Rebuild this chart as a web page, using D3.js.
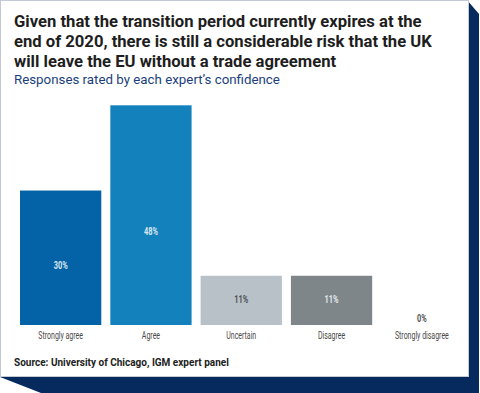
<!DOCTYPE html>
<html>
<head>
<meta charset="utf-8">
<script src="https://cdn.jsdelivr.net/npm/d3@7"></script>
<style>
  body { margin: 0; background: #fff; }
  text { font-family: Roboto, 'DejaVu Sans', sans-serif; }
  .title { font-weight: bold; font-size: 16.5px; fill: #1e1e1e; }
  .subtitle { font-size: 12.5px; fill: #1b3f7d; }
  .source { font-weight: bold; font-size: 10.5px; fill: #222; }
</style>
</head>
<body>
<svg id="chart" width="480" height="393"></svg>
<script>
// data
const categories = ['Strongly agree', 'Agree', 'Uncertain', 'Disagree', 'Strongly disagree']
const values = [29.5, 48.2, 10.8, 10.8, 0]
const bar_colors = ['#0462a6', '#1382bc', '#b9c1c8', '#7e868a', '#7e868a']
const label_colors = ['#dbe7f1', '#dbe7f1', '#4d5257', '#e6e9eb', '#555']
const title_lines = [
  'Given that the transition period currently expires at the',
  'end of 2020, there is still a considerable risk that the UK',
  'will leave the EU without a trade agreement'
]
const subtitle = 'Responses rated by each expert\u2019s confidence'
const source = 'Source: University of Chicago, IGM expert panel'

const svg = d3.select('#chart')
const navy = '#062a5e'

// squeeze a set of texts horizontally so the widest one is `width` px
function condense(sel, width) {
  let widest = d3.max(sel.nodes(), n => n.getComputedTextLength())
  let k = width / widest
  sel.each(function () {
    let t = d3.select(this)
    let tx = +t.attr('x') || 0
    t.attr('transform', `translate(${tx * (1 - k)},0) scale(${k},1)`)
  })
}

// card shadow
svg.append('polygon')
  .attr('points', '467,0 479,14 479,393 41,393 0,377 467,377')
  .attr('fill', navy)
svg.append('rect')
  .attr('x', 0.5).attr('y', 0.5)
  .attr('width', 468).attr('height', 376)
  .attr('fill', '#fff')
  .attr('stroke', '#c3cad6')

// titles
let title = svg.append('g').selectAll('text')
  .data(title_lines)
  .join('text')
  .attr('class', 'title')
  .attr('x', 14)
  .attr('y', (d, i) => 27 + i * 20)
  .text(d => d)
condense(title, 418)

let sub = svg.append('text')
  .attr('class', 'subtitle')
  .attr('x', 14).attr('y', 84)
  .text(subtitle)
condense(sub, 266)

// scales
const x = d3.scaleBand()
  .domain(categories)
  .range([15.5, 467])
  .paddingInner(0.1)
  .paddingOuter(0.05)

const y = d3.scaleLinear()
  .domain([0, 48.2])
  .range([325, 105.3])

const bars = svg.append('g')
const data = categories.map((c, i) => ({ c: c, v: values[i], i: i }))

bars.selectAll('rect')
  .data(data)
  .join('rect')
  .attr('x', d => x(d.c))
  .attr('y', d => y(d.v))
  .attr('width', x.bandwidth())
  .attr('height', d => y(0) - y(d.v))
  .attr('fill', d => bar_colors[d.i])

// value labels
let vals = bars.selectAll('text.val')
  .data(data)
  .join('text')
  .attr('class', 'val')
  .attr('x', d => x(d.c) + x.bandwidth() / 2)
  .attr('y', d => d.v > 0 ? y(d.v * 0.4 + 1.2) + 3.5 : y(0) - 3)
  .attr('text-anchor', 'middle')
  .attr('font-size', 10.5)
  .attr('font-weight', 'bold')
  .attr('fill', d => label_colors[d.i])
  .text(d => Math.round(d.v) + '%')
condense(vals, 14)

// category axis
const x_axis = svg.append('g')
  .attr('transform', `translate(0,${y(0)})`)
  .call(d3.axisBottom(x).tickSize(0).tickPadding(7))
x_axis.select('.domain').remove()
let ticks = x_axis.selectAll('text')
  .attr('font-size', 10.5)
  .attr('font-family', 'Roboto, sans-serif')
  .attr('fill', '#4a4a4a')
condense(ticks, 54)

let src = svg.append('text')
  .attr('class', 'source')
  .attr('x', 14).attr('y', 366)
  .text(source)
condense(src, 215)
</script>
</body>
</html>
